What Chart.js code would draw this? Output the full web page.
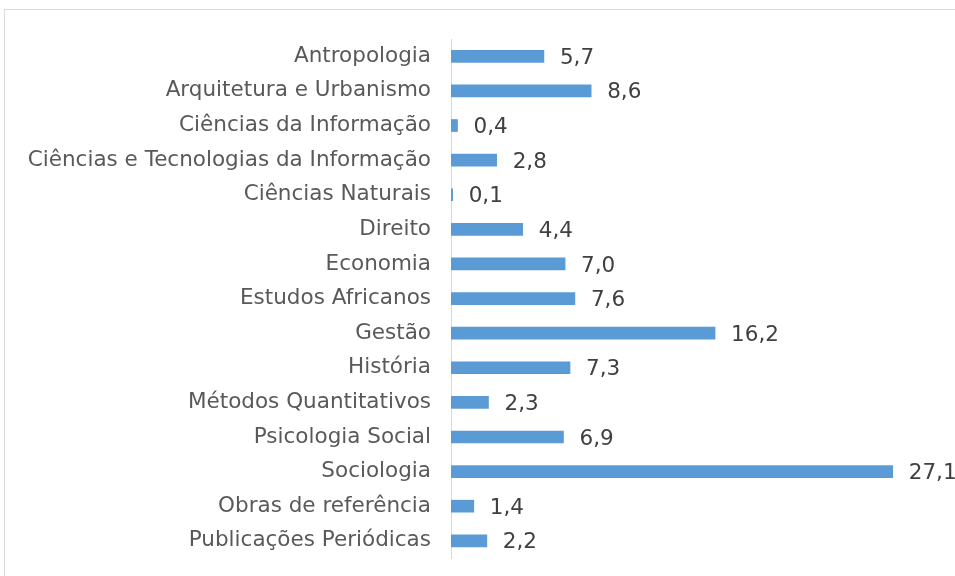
<!DOCTYPE html>
<html>
<head>
<meta charset="utf-8">
<script src="https://cdn.jsdelivr.net/npm/chart.js@4"></script>
<style>
  html, body { margin: 0; padding: 0; background: #fff; }
  #wrap { position: relative; width: 955px; height: 576px; overflow: hidden; }
  #frame { position: absolute; left: 4px; top: 9px; width: 1000px; height: 700px; border: 1px solid #d9d9d9; }
  canvas { position: absolute; left: 0; top: 0; }
</style>
</head>
<body>
<div id="wrap">
  <div id="frame"></div>
  <canvas id="chart" width="955" height="591"></canvas>
</div>
<script>
// categories, top to bottom
const categories = [
    'Antropologia', 'Arquitetura e Urbanismo', 'Ciências da Informação',
    'Ciências e Tecnologias da Informação', 'Ciências Naturais', 'Direito',
    'Economia', 'Estudos Africanos', 'Gestão', 'História',
    'Métodos Quantitativos', 'Psicologia Social', 'Sociologia',
    'Obras de referência', 'Publicações Periódicas'
];
const values = [5.7, 8.6, 0.4, 2.8, 0.1, 4.4, 7.0, 7.6, 16.2, 7.3, 2.3, 6.9, 27.1, 1.4, 2.2];

const fontFamily = '"DejaVu Sans", Verdana, sans-serif';

// value labels to the right of each bar, with comma decimals
const valueLabels = {
    id: 'valueLabels',
    afterDatasetsDraw(chart) {
        const ctx = chart.ctx;
        const meta = chart.getDatasetMeta(0);
        ctx.save();
        ctx.font = '21.5px ' + fontFamily;
        ctx.fillStyle = '#404040';
        ctx.textAlign = 'left';
        ctx.textBaseline = 'middle';
        meta.data.forEach((bar, i) => {
            ctx.fillText(values[i].toFixed(1).replace('.', ','), bar.x + 16, bar.y + 2);
        });
        ctx.restore();
    }
};

new Chart(document.getElementById('chart'), {
    type: 'bar',
    data: {
        labels: categories,
        datasets: [{
            data: values,
            backgroundColor: '#5b9bd5',
            barThickness: 12
        }]
    },
    options: {
        indexAxis: 'y',
        responsive: false,
        animation: false,
        layout: { padding: { top: 39, bottom: 7, right: 15, left: 0 } },
        plugins: { legend: { display: false }, tooltip: { enabled: false } },
        scales: {
            x: { display: false, min: 0, max: 30 },
            y: {
                afterFit(scale) { scale.width = 451; },
                grid: { display: false, drawTicks: false },
                border: { display: true, color: '#d9d9d9', width: 1 },
                ticks: {
                    padding: 20,
                    color: '#595959',
                    font: { family: fontFamily, size: 21.5 }
                }
            }
        }
    },
    plugins: [valueLabels]
});
</script>
</body>
</html>
